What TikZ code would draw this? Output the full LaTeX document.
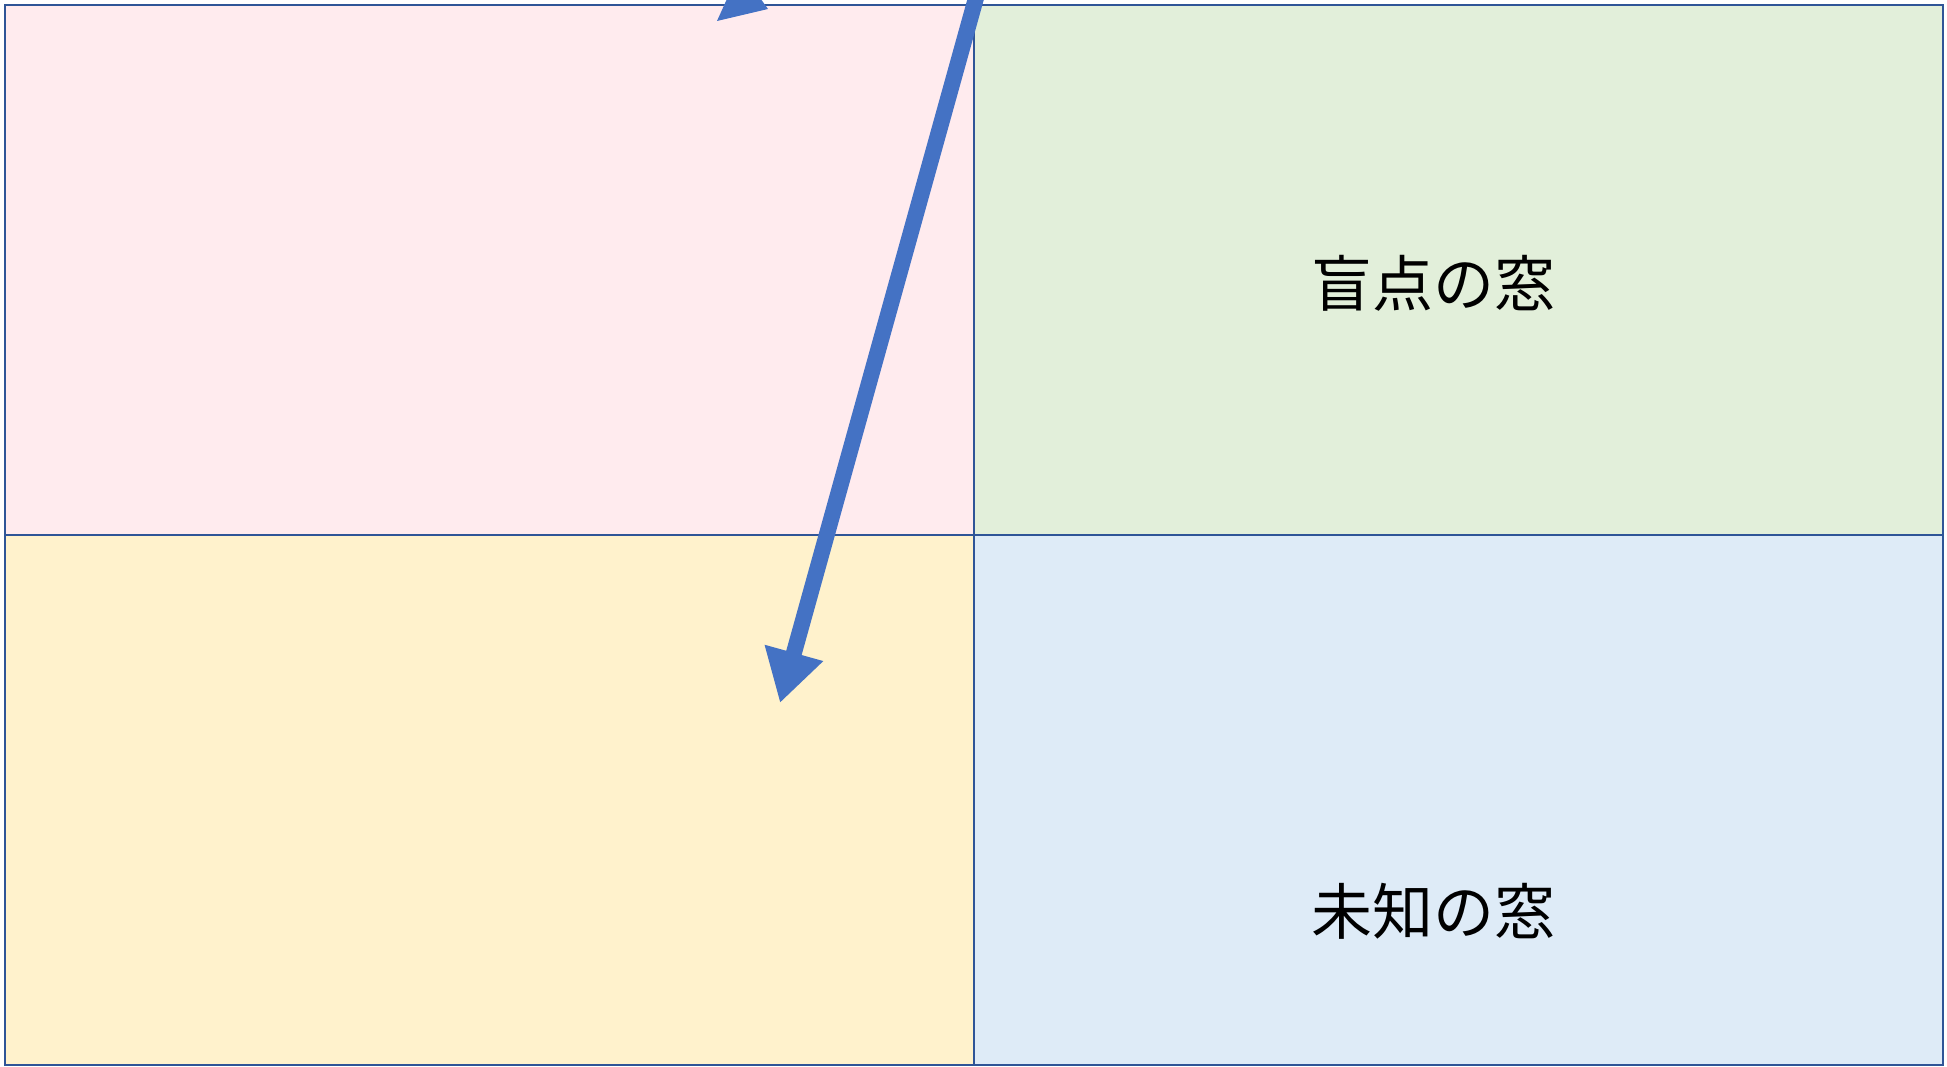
\documentclass[tikz,border=0pt]{standalone}
\usepackage{fontspec}
\newfontfamily\jpfont{Noto Sans CJK JP}
\usetikzlibrary{arrows.meta}
\definecolor{cellpink}{HTML}{FFEBEE}
\definecolor{cellgreen}{HTML}{E2EFDA}
\definecolor{cellyellow}{HTML}{FFF2CC}
\definecolor{cellblue}{HTML}{DEEBF7}
\definecolor{edgeblue}{HTML}{2F5597}
\definecolor{arrowblue}{HTML}{4472C4}
\begin{document}
\begin{tikzpicture}[x=1pt,y=-1pt,
  cell/.style={draw=edgeblue, line width=2.6pt, inner sep=0pt, outer sep=0pt,
    minimum width=969pt, minimum height=530pt},
  label/.style={font=\jpfont\fontsize{61}{72}\selectfont, text=black, inner sep=0pt},
  bigarrow/.style={draw=arrowblue, line width=16pt, -{Triangle[length=52pt,width=57pt]}}]
\useasboundingbox (0,0) rectangle (1947,1067);
\clip (0,0) rectangle (1947,1067);
\node[cell, fill=cellpink]   (tl) at (489.5,270) {};
\node[cell, fill=cellgreen]  (tr) at (1458.5,270) {};
\node[cell, fill=cellyellow] (bl) at (489.5,800) {};
\node[cell, fill=cellblue]   (br) at (1458.5,800) {};
\node[label] (blind) at (1433,283) {盲点の窓};
\node[label] (unknown) at (1433,911) {未知の窓};
\coordinate (astart) at (981,-20);
\coordinate (atip) at (780,703);
\draw[bigarrow] (astart) -- (atip);
\fill[arrowblue] (717,21) -- (768,9) -- (740,-30) -- cycle;
\end{tikzpicture}
\end{document}
